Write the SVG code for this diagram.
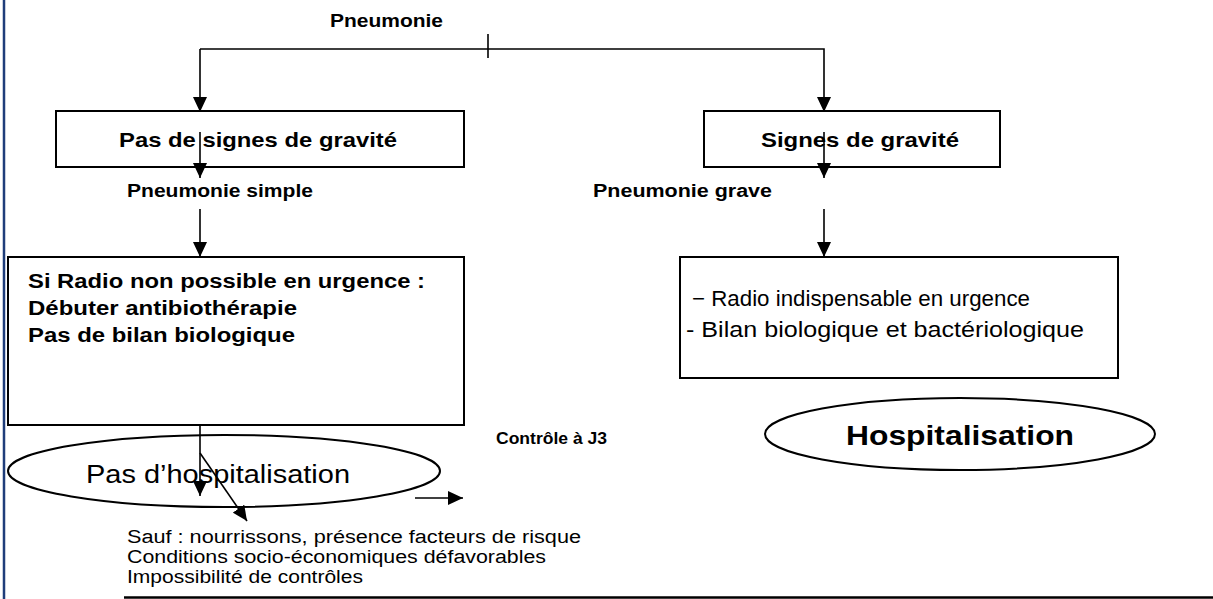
<svg xmlns="http://www.w3.org/2000/svg" width="1213" height="599" viewBox="0 0 1213 599">
<defs>
<style>
.box{fill:#fff;stroke:#000;stroke-width:2}
.ell{fill:none;stroke:#000;stroke-width:2}
.c{fill:none;stroke:#000;stroke-width:1.6}
.b{font-family:"Liberation Sans",Arial,sans-serif;font-weight:bold;fill:#000}
.r{font-family:"Liberation Sans",Arial,sans-serif;fill:#000}
</style>
<marker id="ah" viewBox="0 0 15 14" refX="15" refY="7" markerWidth="15" markerHeight="14" markerUnits="userSpaceOnUse" orient="auto">
<path d="M0,0 L15,7 L0,14 z" fill="#000"/>
</marker>
</defs>
<rect width="1213" height="599" fill="#fff"/>
<line x1="4" y1="0" x2="4" y2="599" stroke="#1F3D7A" stroke-width="2.5"/>
<line x1="124" y1="597.5" x2="1213" y2="597.5" stroke="#000" stroke-width="2.5"/>

<g id="pneumonie">
<text class="b" x="330" y="27" font-size="18" textLength="113" lengthAdjust="spacingAndGlyphs">Pneumonie</text>
</g>
<g id="pas-signes">
<rect class="box" x="56" y="111" width="408" height="56"/>
<text class="b" x="119" y="147" font-size="21" textLength="278" lengthAdjust="spacingAndGlyphs">Pas de signes de gravité</text>
</g>
<g id="signes">
<rect class="box" x="704" y="111" width="296" height="56"/>
<text class="b" x="761" y="147" font-size="21" textLength="198" lengthAdjust="spacingAndGlyphs">Signes de gravité</text>
</g>
<g id="label-simple">
<text class="b" x="127" y="197" font-size="18" textLength="186" lengthAdjust="spacingAndGlyphs">Pneumonie simple</text>
</g>
<g id="label-grave">
<text class="b" x="593" y="197" font-size="18" textLength="179" lengthAdjust="spacingAndGlyphs">Pneumonie grave</text>
</g>
<g id="box-simple">
<rect class="box" x="8" y="257" width="456" height="168"/>
<text class="b" x="28" y="288" font-size="20" textLength="397" lengthAdjust="spacingAndGlyphs">Si Radio non possible en urgence :</text>
<text class="b" x="28" y="315" font-size="20" textLength="269" lengthAdjust="spacingAndGlyphs">Débuter antibiothérapie</text>
<text class="b" x="28" y="342" font-size="20" textLength="267" lengthAdjust="spacingAndGlyphs">Pas de bilan biologique</text>
</g>
<g id="box-grave">
<rect class="box" x="680" y="257" width="438" height="121"/>
<text class="r" x="692" y="306" font-size="22" textLength="338" lengthAdjust="spacingAndGlyphs">− Radio indispensable en urgence</text>
<text class="r" x="686" y="337" font-size="22" textLength="398" lengthAdjust="spacingAndGlyphs">- Bilan biologique et bactériologique</text>
</g>
<g id="controle">
<text class="b" x="496" y="444" font-size="16" textLength="111" lengthAdjust="spacingAndGlyphs">Contrôle à J3</text>
</g>
<g id="hospitalisation">
<ellipse class="ell" cx="960" cy="434" rx="195" ry="36"/>
<text class="b" x="960" y="445" font-size="28" text-anchor="middle" textLength="228" lengthAdjust="spacingAndGlyphs">Hospitalisation</text>
</g>
<g id="pas-hospitalisation">
<ellipse class="ell" cx="224" cy="471" rx="216" ry="36"/>
<text class="r" x="86" y="483" font-size="25" textLength="264" lengthAdjust="spacingAndGlyphs">Pas d’hospitalisation</text>
</g>
<g id="sauf">
<text class="r" x="127" y="543" font-size="18" textLength="454" lengthAdjust="spacingAndGlyphs">Sauf : nourrissons, présence facteurs de risque</text>
<text class="r" x="127" y="563" font-size="18" textLength="419" lengthAdjust="spacingAndGlyphs">Conditions socio-économiques défavorables</text>
<text class="r" x="127" y="583" font-size="18" textLength="236" lengthAdjust="spacingAndGlyphs">Impossibilité de contrôles</text>
</g>

<g id="connectors">
<path class="c" d="M200,49 L200,112" marker-end="url(#ah)"/>
<path class="c" d="M200,49 L824,49 L824,112" marker-end="url(#ah)"/>
<line class="c" x1="488" y1="34" x2="488" y2="58"/>
<line class="c" x1="200" y1="132" x2="200" y2="178" marker-end="url(#ah)"/>
<line class="c" x1="824" y1="132" x2="824" y2="178" marker-end="url(#ah)"/>
<line class="c" x1="200" y1="209" x2="200" y2="257" marker-end="url(#ah)"/>
<line class="c" x1="824" y1="209" x2="824" y2="257" marker-end="url(#ah)"/>
<line class="c" x1="200" y1="425" x2="200" y2="496" marker-end="url(#ah)"/>
<line class="c" x1="200" y1="453" x2="247" y2="521" marker-end="url(#ah)"/>
<line class="c" x1="415" y1="498" x2="463" y2="498" marker-end="url(#ah)"/>
</g>
</svg>
